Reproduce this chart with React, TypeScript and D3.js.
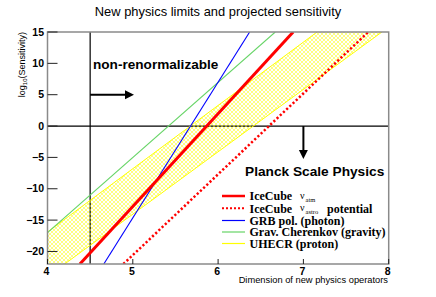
import React from 'react'
import * as d3 from 'd3'

// tick labels
const xTicks = [4, 5, 6, 7, 8]
const yTicks = [15, 10, 5, 0, -5, -10, -15, -20]

// lines, each as [dimension, log10(sensitivity)] end points
const iceCubeAtm: [number, number][] = [[4.38, -22], [6.88, 15]]
const iceCubeAstro: [number, number][] = [[4.89, -22], [7.76, 15]]
const grbPol: [number, number][] = [[4.66, -22], [6.37, 15]]
const gravCherenkov: [number, number][] = [[4.0, -17], [6.67, 15]]
// UHECR band: upper and lower edges
const uhecrUpper: [number, number][] = [[4.0, -16.9], [7.16, 15]]
const uhecrLower: [number, number][] = [[4.0, -24.0], [7.92, 15]]

const renormDim = 4.5
const arrowLevel = 5
const planckDim = 7.0

const legendLabels = ['IceCube', 'IceCube', 'GRB pol. (photon)', 'Grav. Cherenkov (gravity)', 'UHECR (proton)']

const W = 436
const H = 297

export default function App() {
  const x = d3.scaleLinear().domain([4, 8]).range([47.5, 388.7])
  const y = d3.scaleLinear().domain([-22, 15]).range([264, 32])
  const line = d3.line<[number, number]>().x(d => x(d[0])).y(d => y(d[1]))

  // extend band edges past the frame so the polygon covers all, then clip
  const ext = (pts: [number, number][]): [number, number][] => {
    const [a, b] = pts
    const s = (b[1] - a[1]) / (b[0] - a[0])
    return [[3, a[1] + s * (3 - a[0])], [9, a[1] + s * (9 - a[0])]]
  }
  const up = ext(uhecrUpper)
  const lo = ext(uhecrLower)
  const band = line([up[0], up[1], lo[1], lo[0]]) + 'Z'

  const frameColor = '#8a8a8a'
  const sans = 'Liberation Sans, Arial, Helvetica, sans-serif'
  const serif = 'Liberation Serif, Times New Roman, serif'

  const legY = [196, 208.3, 220.5, 232, 243.5]

  return (
    <svg width={W} height={H} style={{ position: 'absolute', left: 0, top: 0 }}>
      <defs>
        <clipPath id="plot">
          <rect x={x(4)} y={y(15)} width={x(8) - x(4)} height={y(-22) - y(15)} />
        </clipPath>
        <pattern id="hatch" width="4" height="4" patternUnits="userSpaceOnUse">
          <path d="M0,4 L4,0 M-1,1 L1,-1 M3,5 L5,3" stroke="#ffff00" strokeWidth="0.5" />
          <path d="M0,0 L4,4 M-1,3 L1,5 M3,-1 L5,1" stroke="#ffff00" strokeWidth="0.5" />
        </pattern>
      </defs>
      <rect width={W} height={H} fill="#fff" />

      <text x={218} y={16} textAnchor="middle" fontFamily={sans} fontSize={12.9}>
        New physics limits and projected sensitivity
      </text>

      {/* reference lines */}
      <line x1={x(4)} x2={x(8)} y1={y(0)} y2={y(0)} stroke="#000" strokeWidth={1.2} />
      <line x1={x(renormDim)} x2={x(renormDim)} y1={y(15)} y2={y(-22)} stroke="#000" strokeWidth={1.2} />

      <g clipPath="url(#plot)">
        <path d={band} fill="url(#hatch)" />
        <path d={line(ext(uhecrUpper)) as string} stroke="#ffff00" strokeWidth={1} fill="none" />
        <path d={line(ext(uhecrLower)) as string} stroke="#ffff00" strokeWidth={1} fill="none" />
        <path d={line(gravCherenkov) as string} stroke="#66d466" strokeWidth={1.1} fill="none" />
        <path d={line(grbPol) as string} stroke="#0000ff" strokeWidth={1.1} fill="none" />
        <path d={line(iceCubeAtm) as string} stroke="#ff0000" strokeWidth={3} fill="none" />
        <path d={line(iceCubeAstro) as string} stroke="#ff0000" strokeWidth={2.5} strokeDasharray="2.2 2.2" fill="none" />
      </g>

      {/* arrows */}
      <line x1={x(renormDim)} x2={127} y1={y(arrowLevel)} y2={y(arrowLevel)} stroke="#000" strokeWidth={2} />
      <path d={`M125,${y(arrowLevel) - 4.5} L134,${y(arrowLevel)} L125,${y(arrowLevel) + 4.5}Z`} fill="#000" />
      <line x1={x(planckDim)} x2={x(planckDim)} y1={y(0)} y2={152} stroke="#000" strokeWidth={2} />
      <path d={`M${x(planckDim) - 4.5},150 L${x(planckDim)},159 L${x(planckDim) + 4.5},150Z`} fill="#000" />

      <text x={93} y={68.5} fontFamily={sans} fontWeight="bold" fontSize={13.6}>non-renormalizable</text>
      <text x={245} y={175.5} fontFamily={sans} fontWeight="bold" fontSize={13.7}>Planck Scale Physics</text>

      {/* frame */}
      <rect x={x(4)} y={y(15)} width={x(8) - x(4)} height={y(-22) - y(15)} fill="none" stroke={frameColor} strokeWidth={1.5} />

      {/* y axis ticks */}
      {yTicks.map(t => (
        <g key={'y' + t}>
          <line x1={x(4)} x2={x(4) + 10} y1={y(t)} y2={y(t)} stroke="#222" strokeWidth={1} />
          <text x={44} y={y(t) + 3.6} textAnchor="end" fontFamily={sans} fontWeight="bold" fontSize={10.5}>
            {t < 0 ? '\u2212' + Math.abs(t) : t}
          </text>
        </g>
      ))}
      {/* x axis ticks */}
      {xTicks.map(t => (
        <g key={'x' + t}>
          <line x1={x(t)} x2={x(t)} y1={y(-22)} y2={y(-22) - 5} stroke="#222" strokeWidth={1} />
          <text x={x(t) - 1} y={274.5} textAnchor="middle" fontFamily={sans} fontWeight="bold" fontSize={10.5}>{t}</text>
        </g>
      ))}

      <text x={388} y={283} textAnchor="end" fontFamily={sans} fontSize={9.3}>Dimension of new physics operators</text>
      <text transform="translate(25,32) rotate(-90)" textAnchor="end" fontFamily={sans} fontSize={9}>
        log<tspan fontSize={6} dy={2}>10</tspan><tspan dy={-2}>(Sensitivity)</tspan>
      </text>

      {/* legend */}
      <g fontFamily={serif} fontWeight="bold" fontSize={12}>
        <line x1={222} x2={245} y1={legY[0]} y2={legY[0]} stroke="#ff0000" strokeWidth={2.5} />
        <line x1={222} x2={245} y1={legY[1]} y2={legY[1]} stroke="#ff0000" strokeWidth={2} strokeDasharray="2 2" />
        <line x1={222} x2={245} y1={legY[2]} y2={legY[2]} stroke="#0000ff" strokeWidth={1.2} />
        <line x1={222} x2={245} y1={legY[3]} y2={legY[3]} stroke="#66d466" strokeWidth={1.2} />
        <line x1={222} x2={245} y1={legY[4]} y2={legY[4]} stroke="#ffff00" strokeWidth={1.2} />
        {legendLabels.map((l, i) => (
          <text key={i} x={249.5} y={legY[i] + 4.2}>{l}</text>
        ))}
        <text x={300} y={legY[0] + 2.5} fontWeight="normal" fontSize={10}>ν</text>
        <text x={305.5} y={legY[0] + 5.5} fontWeight="normal" fontSize={6.5}>atm</text>
        <text x={300} y={legY[1] + 2.5} fontWeight="normal" fontSize={10}>ν</text>
        <text x={305.5} y={legY[1] + 5.5} fontWeight="normal" fontSize={6.5}>astro</text>
        <text x={327} y={legY[1] + 4.2}>potential</text>
      </g>
    </svg>
  )
}
